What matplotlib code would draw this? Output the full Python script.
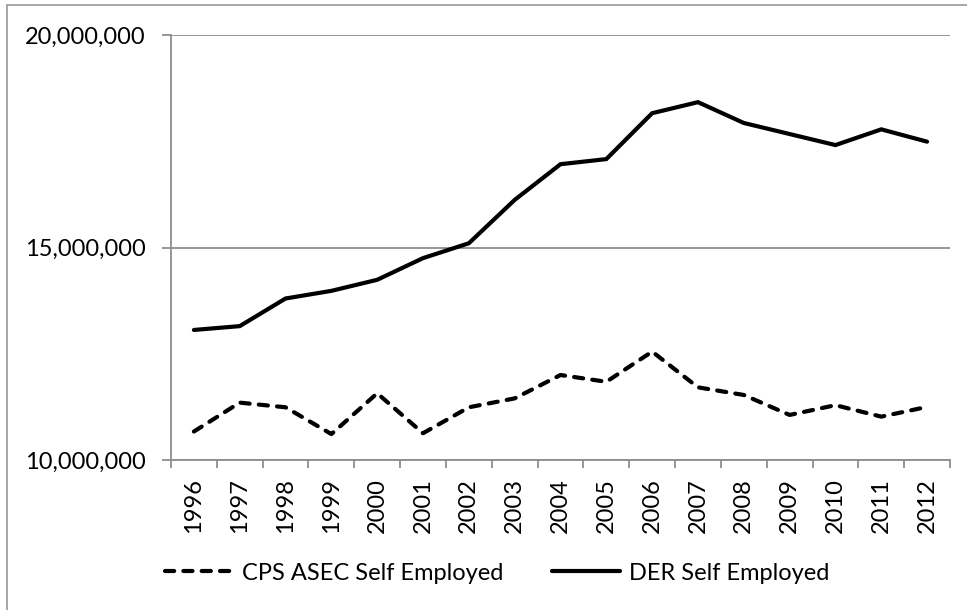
import matplotlib
matplotlib.use("Agg")
import matplotlib.pyplot as plt
from matplotlib.lines import Line2D
from matplotlib.patches import Rectangle
from matplotlib.ticker import FuncFormatter, FixedLocator

plt.rcParams['font.family'] = ['Lato', 'DejaVu Sans']

years = ['1996', '1997', '1998', '1999', '2000', '2001', '2002', '2003', '2004',
         '2005', '2006', '2007', '2008', '2009', '2010', '2011', '2012']
cps_asec = [10.67e6, 11.35e6, 11.24e6, 10.61e6, 11.57e6, 10.63e6, 11.24e6, 11.45e6,
            12.00e6, 11.84e6, 12.55e6, 11.71e6, 11.53e6, 11.06e6, 11.29e6, 11.02e6, 11.25e6]
der = [13.06e6, 13.15e6, 13.80e6, 13.98e6, 14.24e6, 14.75e6, 15.10e6, 16.12e6,
       16.96e6, 17.08e6, 18.16e6, 18.42e6, 17.93e6, 17.67e6, 17.41e6, 17.78e6, 17.49e6]
y_ticks = [10e6, 15e6, 20e6]
series_names = ['CPS ASEC Self Employed', 'DER Self Employed']

W, H = 967, 610
fig = plt.figure(figsize=(W / 100, H / 100), dpi=100)
ax = fig.add_axes([171 / W, 1 - 460 / H, (950 - 171) / W, (460 - 35) / H])

gray = '#8e8e8e'
fs = 17
x = list(range(len(years)))

l1, = ax.plot(x, cps_asec, color='black', lw=3.0, linestyle=(0, (2.2, 2.2)),
              dash_capstyle='round', solid_capstyle='round')
l2, = ax.plot(x, der, color='black', lw=3.0, solid_capstyle='round',
              solid_joinstyle='miter')

ax.set_xlim(-0.5, len(years) - 0.5)
ax.set_ylim(10e6, 20e6)
ax.set_yticks(y_ticks)
ax.yaxis.set_major_formatter(FuncFormatter(lambda v, p: f"{int(v):,}"))
ax.grid(axis='y', color=gray, lw=1.3)
ax.set_axisbelow(True)

ax.set_xticks(x)
ax.set_xticklabels(years, rotation=90)
ax.xaxis.set_minor_locator(FixedLocator([i - 0.5 for i in range(len(years) + 1)]))
ax.tick_params(axis='x', which='major', length=0, pad=13, labelsize=fs)
ax.tick_params(axis='x', which='minor', length=6, width=1.3, color=gray)
ax.tick_params(axis='y', length=6.5, width=1.3, color=gray, pad=12, labelsize=fs)

for s in ['top', 'right']:
    ax.spines[s].set_visible(False)
for s in ['left', 'bottom']:
    ax.spines[s].set_color(gray)
    ax.spines[s].set_linewidth(1.3)

hl = 68 / (fs * 100 / 72)
htp = 9 / (fs * 100 / 72)
for handle, name, x0 in [(l1, series_names[0], 165), (l2, series_names[1], 552)]:
    leg = fig.legend(handles=[handle], labels=[name], loc='center left',
                     bbox_to_anchor=(x0 / W, 1 - 573 / H), frameon=False,
                     borderpad=0, borderaxespad=0, handlelength=hl,
                     handletextpad=htp, fontsize=fs)

fig.patches.append(Rectangle((7 / W, -0.05), 1.0, (1 - 5 / H) + 0.05,
                             transform=fig.transFigure, fill=False,
                             edgecolor='#a0a0a0', lw=1.3))

fig.savefig('out.png', dpi=100)
